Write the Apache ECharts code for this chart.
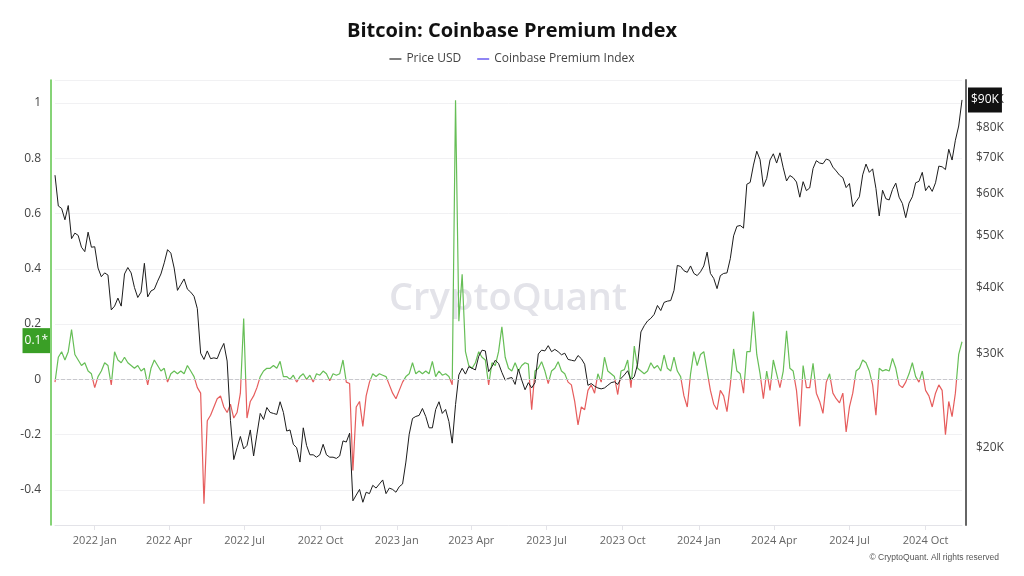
<!DOCTYPE html>
<html>
<head>
<meta charset="utf-8">
<title>Bitcoin: Coinbase Premium Index</title>
<script src="https://cdn.jsdelivr.net/npm/echarts@6/dist/echarts.min.js"></script>
<style>
  html, body { margin: 0; padding: 0; background: #fff; }
  #chart { width: 1024px; height: 576px; }
</style>
</head>
<body>
<div id="chart"></div>
<script>
// samples every 4 days starting 2021-11-14
var firstDay = [2021, 10, 14];
var stepDays = 4;

var priceUsd = [
  65000, 56900, 56300, 53600, 57000, 49400, 50600, 50100, 47600, 46700,
  50800, 47600, 47700, 43500, 41900, 42600, 42200, 36300, 36900, 38200,
  36900, 42400, 43600, 42600, 40000, 38300, 39200, 44400, 38400, 39400,
  39700, 41100, 42400, 44500, 47100, 46400, 43500, 39500, 40500, 41500,
  39700, 39200, 38500, 36500, 30100, 29300, 30400, 29400, 29500, 29400,
  30500, 31400, 29100, 22500, 19000, 20000, 21000, 19900, 20200, 21600,
  19300, 21200, 23200, 22600, 23800, 23300, 23200, 23100, 24400, 23300,
  21500, 21600, 20300, 20000, 18800, 21800, 20200, 19400, 19400, 19200,
  19400, 20300, 19400, 19200, 19200, 19100, 19300, 20600, 20500, 21300,
  15900, 16300, 16700, 15800, 16500, 16400, 17000, 16800, 17100, 17400,
  16400, 16800, 16700, 16500, 16900, 17100, 18800, 21200, 22700, 22900,
  23000, 23700, 22900, 21800, 21800, 23600, 24400, 23200, 23600, 22400,
  20400, 24100, 27400, 28200, 27500, 28400, 28200, 28000, 29700, 30500,
  30400, 27800, 28400, 29200, 28800, 27700, 26800, 27000, 27100, 26300,
  28100, 26800, 25700, 26500, 25900, 26500, 30000, 30500, 30400, 31100,
  30300, 30600, 30300, 29900, 30100, 29300, 29200, 29100, 29800, 29400,
  28700, 26200, 26400, 26100, 25900, 25800, 25900, 26200, 26500, 26600,
  26300, 27000, 27400, 27900, 26800, 27200, 28700, 33000, 33900, 34600,
  35000, 35600, 37000, 36200, 37500, 37700, 37800, 39500, 44000, 43800,
  43000, 42700, 43900, 42500, 42100, 42800, 43900, 46600, 42500, 41600,
  39800, 42100, 42500, 42600, 45300, 50000, 52100, 52300, 51700, 62500,
  63000, 67900, 72100, 69500, 61900, 64100, 69400, 71300, 68500, 71600,
  67100, 63400, 64900, 64300, 63100, 59100, 63200, 60800, 61500, 66900,
  69200, 68500, 68300, 69700, 69300, 67300, 66200, 65000, 64300, 61600,
  62700, 56700, 58000, 59200, 65100, 68200, 65800, 66800, 61400, 54500,
  60900, 58700, 58400, 61100, 62800, 59100, 57500, 54100, 57600, 59200,
  62900, 63300, 65800, 60800, 62100, 60600, 62900, 67600, 67400, 66600,
  72700, 69400, 75600, 80400, 90000
];

var premiumIndex = [
  -0.01, 0.08, 0.1, 0.07, 0.1, 0.18, 0.09, 0.07, 0.05, 0.06,
  0.03, 0.02, -0.03, 0.01, 0.03, 0.06, 0.05, -0.02, 0.1, 0.07,
  0.06, 0.08, 0.06, 0.05, 0.04, 0.05, 0.03, 0.04, -0.02, 0.04,
  0.07, 0.05, 0.03, 0.04, -0.01, 0.02, 0.03, 0.02, 0.03, 0.02,
  0.05, 0.03, 0.01, -0.03, -0.05, -0.45, -0.15, -0.13, -0.1, -0.07,
  -0.06, -0.1, -0.12, -0.09, -0.14, -0.12, -0.05, 0.22, -0.14, -0.08,
  -0.06, -0.03, 0.01, 0.03, 0.04, 0.04, 0.05, 0.04, 0.065, 0.01,
  0.01, 0.0, 0.015, -0.01, 0.01, 0.02, 0.0, 0.015, -0.01, 0.02,
  0.015, 0.03, 0.02, -0.005, 0.02, 0.015, 0.02, 0.07, -0.01, -0.015,
  -0.33, -0.1, -0.08, -0.17, -0.06, -0.01, 0.02, 0.01, 0.02, 0.015,
  0.01, -0.02, -0.05, -0.07, -0.04, -0.01, 0.01, 0.02, 0.06, 0.02,
  0.03, 0.02, 0.03, 0.02, 0.065, 0.01, 0.03, 0.015, 0.02, 0.01,
  -0.02, 1.01, 0.21, 0.38, 0.1, 0.05, 0.04, 0.06, 0.1, 0.08,
  0.07, -0.02, 0.06, 0.05, 0.1, 0.19, 0.08, 0.04, 0.03, 0.06,
  0.03, 0.05, 0.06, 0.055, -0.11, 0.03, 0.04, 0.064, 0.03, -0.015,
  0.03, 0.04, 0.064, 0.03, 0.02, -0.01, -0.02, -0.08, -0.165, -0.1,
  -0.11, -0.04, -0.02, -0.05, 0.02, -0.01, 0.08, 0.03, 0.02, 0.01,
  -0.055, 0.03, 0.035, 0.07, -0.03, 0.12, 0.04, 0.03, 0.02, 0.03,
  0.06, 0.04, 0.05, 0.03, 0.088, 0.04, 0.03, 0.08, 0.03, 0.01,
  -0.06, -0.1, 0.02, 0.1, 0.05, 0.09, 0.1, 0.03, -0.04, -0.09,
  -0.11, -0.04, -0.06, -0.117, -0.02, 0.11, 0.03, 0.02, -0.05, 0.1,
  0.1, 0.245, 0.09, 0.02, -0.07, 0.03, -0.04, 0.07, 0.02, -0.03,
  0.03, 0.176, 0.04, 0.03, -0.04, -0.17, 0.05, -0.03, -0.03, 0.058,
  -0.05, -0.08, -0.123, -0.01, 0.02, -0.05, -0.07, -0.085, -0.05, -0.19,
  -0.1, -0.05, 0.03, 0.04, 0.07, 0.06, 0.03, -0.02, -0.13, 0.04,
  0.03, 0.035, 0.03, 0.076, 0.04, -0.02, -0.03, -0.01, 0.02, 0.06,
  0.01, -0.01, 0.03, -0.04, -0.06, -0.1, -0.05, -0.02, -0.04, -0.2,
  -0.08, -0.135, -0.05, 0.09, 0.136
];

var quarterDates = ['2022-01-01', '2022-04-01', '2022-07-01', '2022-10-01',
  '2023-01-01', '2023-04-01', '2023-07-01', '2023-10-01',
  '2024-01-01', '2024-04-01', '2024-07-01', '2024-10-01'];
var quarterLabels = ['2022 Jan', '2022 Apr', '2022 Jul', '2022 Oct',
  '2023 Jan', '2023 Apr', '2023 Jul', '2023 Oct',
  '2024 Jan', '2024 Apr', '2024 Jul', '2024 Oct'];
var priceTicks = [20000, 30000, 40000, 50000, 60000, 70000, 80000, 90000];
var priceTickLabels = ['$20K', '$30K', '$40K', '$50K', '$60K', '$70K', '$80K', '$90K'];
var premiumCurrentLabel = '0.1*';

var dates = [];
for (var i = 0; i < priceUsd.length; i++) {
  dates.push(new Date(firstDay[0], firstDay[1], firstDay[2] + i * stepDays).getTime());
}
var quarterTs = quarterDates.map(function (s) {
  var p = s.split('-');
  return new Date(+p[0], +p[1] - 1, +p[2]).getTime();
});
var priceLogTicks = priceTicks.map(function (p) { return Math.log10(p); });

var priceData = dates.map(function (t, i) { return [t, Math.log10(priceUsd[i])]; });
var premiumData = dates.map(function (t, i) { return [t, premiumIndex[i]]; });
var lastPremium = premiumIndex[premiumIndex.length - 1];

function nearestIndex(arr, v) {
  var best = 0;
  for (var k = 1; k < arr.length; k++) {
    if (Math.abs(arr[k] - v) < Math.abs(arr[best] - v)) best = k;
  }
  return best;
}

var font = '"Open Sans", "Noto Sans", sans-serif';
var myChart = echarts.init(document.getElementById('chart'), null, {renderer: 'canvas'});
myChart.setOption({
  animation: false,
  backgroundColor: '#fff',
  textStyle: {fontFamily: font},
  title: {
    text: 'Bitcoin: Coinbase Premium Index',
    left: 'center',
    top: 16,
    textStyle: {fontFamily: font, fontWeight: 'bold', fontSize: 20, color: '#111'}
  },
  legend: {
    top: 48,
    left: 'center',
    icon: 'rect',
    itemWidth: 12,
    itemHeight: 1.5,
    itemGap: 16,
    textStyle: {fontFamily: font, fontSize: 12, color: '#444'},
    data: [
      {name: 'Price USD', itemStyle: {color: '#555'}},
      {name: 'Coinbase Premium Index', itemStyle: {color: '#6a5cf0'}}
    ]
  },
  grid: {left: 55, right: 62, top: 80, bottom: 51, containLabel: false, outerBoundsMode: 'none'},
  xAxis: {
    type: 'value',
    min: dates[0],
    max: dates[dates.length - 1],
    axisLine: {show: true, onZero: false, lineStyle: {color: '#e3e3e8', width: 1}},
    axisTick: {show: true, customValues: quarterTs, length: 5, lineStyle: {color: '#e3e3e8'}},
    splitLine: {show: false},
    axisLabel: {
      customValues: quarterTs,
      margin: 10,
      fontSize: 11,
      color: '#666',
      fontFamily: font,
      formatter: function (val) { return quarterLabels[nearestIndex(quarterTs, val)]; }
    }
  },
  yAxis: [
    {
      type: 'value',
      position: 'left',
      offset: 4,
      min: -0.527,
      max: 1.083,
      splitNumber: 8,
      axisLine: {show: true, lineStyle: {color: '#5ec44a', width: 1.5}},
      axisTick: {show: false},
      splitLine: {show: true, lineStyle: {color: '#f1f1f3'}},
      axisLabel: {showMinLabel: false, showMaxLabel: false, margin: 10, fontSize: 12, color: '#444', fontFamily: font}
    },
    {
      type: 'value',
      position: 'right',
      offset: 4,
      min: Math.log10(14320),
      max: Math.log10(98100),
      axisLine: {show: true, lineStyle: {color: '#666', width: 2}},
      axisTick: {show: false},
      splitLine: {show: false},
      axisLabel: {
        customValues: priceLogTicks,
        margin: 10,
        fontSize: 12,
        color: '#444',
        fontFamily: font,
        formatter: function (v) { return priceTickLabels[nearestIndex(priceLogTicks, v)]; }
      }
    }
  ],
  visualMap: {
    type: 'piecewise',
    show: false,
    seriesIndex: 0,
    dimension: 1,
    pieces: [
      {gte: -2, lte: 0, color: '#e65c5c'},
      {gt: 0, lte: 2, color: '#66be56'}
    ]
  },
  graphic: [
    {
      type: 'text',
      z: -1,
      silent: true,
      style: {
        text: 'CryptoQuant', x: 508, y: 299,
        fill: '#e3e3e9', font: '600 38px ' + font,
        textAlign: 'center', textVerticalAlign: 'middle'
      }
    },
    {
      type: 'text',
      silent: true,
      style: {
        text: '\u00a9 CryptoQuant. All rights reserved', x: 999, y: 558,
        fill: '#555', font: '8.5px "Liberation Sans", Arial, sans-serif',
        textAlign: 'right', textVerticalAlign: 'middle'
      }
    }
  ],
  series: [
    {
      name: 'Coinbase Premium Index',
      type: 'line',
      yAxisIndex: 0,
      data: premiumData,
      showSymbol: false,
      color: '#6a5cf0',
      lineStyle: {width: 1.2},
      z: 2,
      markLine: {
        silent: true,
        symbol: 'none',
        animation: false,
        data: [
          {yAxis: 0, lineStyle: {type: 'dashed', color: '#c8c8cd', width: 1}, label: {show: false}},
          {
            yAxis: lastPremium,
            lineStyle: {width: 0, color: 'rgba(255,255,255,0)'},
            label: {
              show: true, position: 'start', distance: 5,
              formatter: premiumCurrentLabel,
              backgroundColor: '#3a9f26', color: '#fff',
              fontFamily: font, fontSize: 12, padding: [7, 2, 6, 2]
            }
          }
        ]
      }
    },
    {
      name: 'Price USD',
      type: 'line',
      yAxisIndex: 1,
      data: priceData,
      showSymbol: false,
      color: '#555',
      lineStyle: {color: '#1c1c1c', width: 1},
      z: 4,
      endLabel: {
        show: true,
        distance: 6,
        formatter: function (p) { return '$' + Math.round(Math.pow(10, p.value[1]) / 1000) + 'K'; },
        backgroundColor: '#111',
        color: '#fff',
        fontFamily: font,
        fontSize: 12,
        padding: [7, 3, 6, 3]
      }
    }
  ]
});
</script>
</body>
</html>
